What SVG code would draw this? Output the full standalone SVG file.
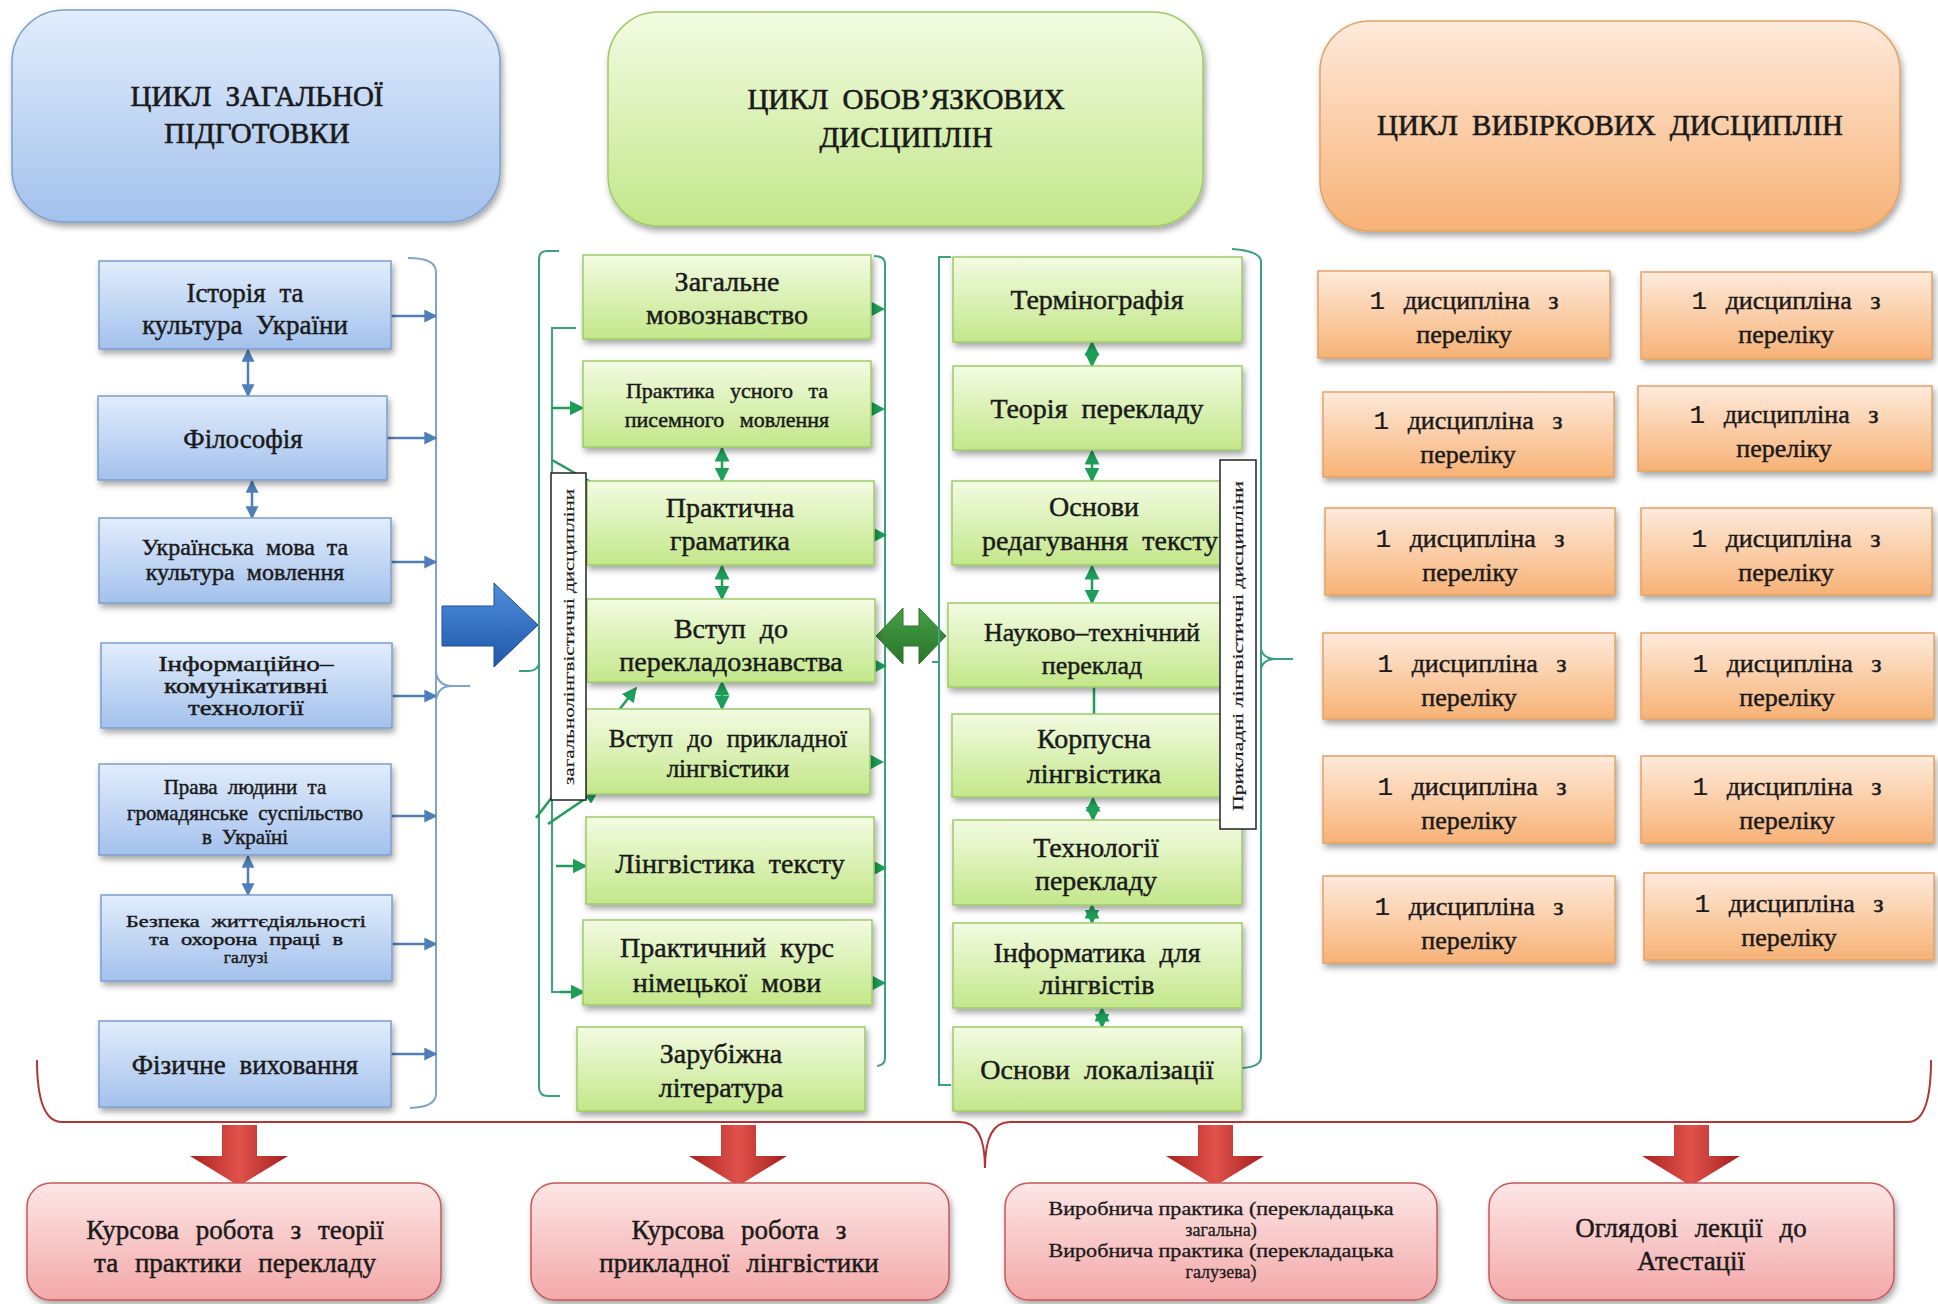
<svg xmlns="http://www.w3.org/2000/svg" width="1938" height="1304" viewBox="0 0 1938 1304">
<defs>
<linearGradient id="gB" x1="0" y1="0" x2="0" y2="1"><stop offset="0" stop-color="#e2edfc"/><stop offset="1" stop-color="#a3c1ec"/></linearGradient>
<linearGradient id="gG" x1="0" y1="0" x2="0" y2="1"><stop offset="0" stop-color="#f3fbe2"/><stop offset="1" stop-color="#c3e78a"/></linearGradient>
<linearGradient id="gO" x1="0" y1="0" x2="0" y2="1"><stop offset="0" stop-color="#feeadb"/><stop offset="1" stop-color="#f7b276"/></linearGradient>
<linearGradient id="gR" x1="0" y1="0" x2="0" y2="1"><stop offset="0" stop-color="#fde6e6"/><stop offset="1" stop-color="#f3a8a8"/></linearGradient>
<linearGradient id="gRA" x1="0" y1="0" x2="1" y2="0"><stop offset="0" stop-color="#a92222"/><stop offset="0.5" stop-color="#e0524a"/><stop offset="1" stop-color="#a31e1e"/></linearGradient>
<linearGradient id="gBA" x1="0" y1="0" x2="0" y2="1"><stop offset="0" stop-color="#4f8fdc"/><stop offset="1" stop-color="#1f56a8"/></linearGradient>
<linearGradient id="gGA" x1="0" y1="0" x2="0" y2="1"><stop offset="0" stop-color="#45a045"/><stop offset="1" stop-color="#2b742b"/></linearGradient>
<filter id="sh" x="-10%" y="-10%" width="125%" height="130%"><feDropShadow dx="2" dy="4" stdDeviation="3" flood-color="#000" flood-opacity="0.35"/></filter>
<marker id="mb" viewBox="0 0 10 10" refX="9" refY="5" markerUnits="userSpaceOnUse" markerWidth="13" markerHeight="13" orient="auto-start-reverse"><path d="M0,0 L10,5 L0,10 z" fill="#4f7fb8"/></marker>
<marker id="mg" viewBox="0 0 10 10" refX="9" refY="5" markerUnits="userSpaceOnUse" markerWidth="15" markerHeight="15" orient="auto-start-reverse"><path d="M0,0 L10,5 L0,10 z" fill="#1e9e58"/></marker>
</defs>
<style>
text{font-family:"Liberation Serif","Times New Roman",serif;fill:#1a1a1a;stroke:#1a1a1a;stroke-width:0.45px;text-anchor:middle}
.hdr{font-size:29px;word-spacing:7px;stroke-width:0.6px}
.b{font-size:27px;word-spacing:7px}
.m{font-size:25px;word-spacing:6px}
.s{font-size:21px;word-spacing:5px}
.g{font-size:28px;word-spacing:7px}
.o{font-size:26px;word-spacing:12px}
.one{font-family:"Liberation Mono","Courier New",monospace;stroke-width:0.2px}
.lab{font-size:15px;stroke-width:0.2px}
.bl{fill:url(#gB);stroke:#7a9fcf;stroke-width:1.5}
.gr{fill:url(#gG);stroke:#9ccb6a;stroke-width:1.5}
.or{fill:url(#gO);stroke:#e2a366;stroke-width:1.5}
.rd{fill:url(#gR);stroke:#c45a5a;stroke-width:1.5}
.ab{stroke:#4f7fb8;stroke-width:2.5;fill:none}
.ag{stroke:#1e9e58;stroke-width:2.5;fill:none}
.brB{stroke:#7fa3cc;stroke-width:2;fill:none}
.brG{stroke:#3aa17a;stroke-width:2;fill:none}
.tri{fill:#1e9e58}
</style>
<rect width="1938" height="1304" fill="#ffffff"/>

<!-- headers -->
<g id="hdr-general"><rect x="12" y="10" width="488" height="212" rx="52" class="bl" filter="url(#sh)"/><text class="hdr" x="257" y="106">ЦИКЛ ЗАГАЛЬНОЇ</text><text class="hdr" x="257" y="143">ПІДГОТОВКИ</text></g>
<g id="hdr-mandatory"><rect x="608" y="12" width="595" height="214" rx="50" class="gr" filter="url(#sh)"/><text class="hdr" x="906" y="109">ЦИКЛ ОБОВ’ЯЗКОВИХ</text><text class="hdr" x="906" y="147">ДИСЦИПЛІН</text></g>
<g id="hdr-elective"><rect x="1320" y="21" width="580" height="210" rx="50" class="or" filter="url(#sh)"/><text class="hdr" x="1610" y="135">ЦИКЛ ВИБІРКОВИХ ДИСЦИПЛІН</text></g>

<!-- connectors -->
<g id="connectors">
<path class="brB" d="M408,258 Q436,258 436,272 L436,1094 Q436,1107 410,1108"/>
<path class="brB" d="M436,672 Q438,686 452,686 L470,686 M452,686 Q438,686 436,700"/>
<line class="ab" x1="391" y1="316" x2="436" y2="316" marker-end="url(#mb)"/>
<line class="ab" x1="387" y1="438" x2="436" y2="438" marker-end="url(#mb)"/>
<line class="ab" x1="391" y1="562" x2="436" y2="562" marker-end="url(#mb)"/>
<line class="ab" x1="392" y1="696" x2="436" y2="696" marker-end="url(#mb)"/>
<line class="ab" x1="391" y1="816" x2="436" y2="816" marker-end="url(#mb)"/>
<line class="ab" x1="392" y1="944" x2="436" y2="944" marker-end="url(#mb)"/>
<line class="ab" x1="391" y1="1054" x2="436" y2="1054" marker-end="url(#mb)"/>
<line class="ab" x1="248" y1="350" x2="248" y2="396" marker-start="url(#mb)" marker-end="url(#mb)"/>
<line class="ab" x1="252" y1="481" x2="252" y2="518" marker-start="url(#mb)" marker-end="url(#mb)"/>
<line class="ab" x1="248" y1="856" x2="248" y2="895" marker-start="url(#mb)" marker-end="url(#mb)"/>
<polygon points="442,606 494,606 494,583 538,625 494,667 494,646 442,646" fill="url(#gBA)" stroke="#1d4f97" stroke-width="1"/>
<path class="brG" d="M559,251 L547,251 Q539,251 539,259 L539,1087 Q539,1096 548,1096 L560,1096"/>
<path class="brG" d="M539,664 Q537,671 528,671 L519,671"/>
<path class="brG" d="M576,328 L552,328 L552,992 L572,992"/>
<line class="ag" x1="552" y1="408" x2="583" y2="408" marker-end="url(#mg)"/>
<line class="ag" x1="552" y1="645" x2="587" y2="645" marker-end="url(#mg)"/>
<line class="ag" x1="556" y1="866" x2="586" y2="866" marker-end="url(#mg)"/>
<line class="ag" x1="560" y1="992" x2="584" y2="992" marker-end="url(#mg)"/>
<line class="ag" x1="552" y1="460" x2="612" y2="494" marker-end="url(#mg)"/>
<line class="ag" x1="536" y1="818" x2="636" y2="688" marker-end="url(#mg)"/>
<line class="ag" x1="548" y1="824" x2="598" y2="790" marker-end="url(#mg)"/>
<path class="brG" d="M874,256 Q885,256 885,264 L885,1058 Q885,1065 877,1066"/>
<polygon class="tri" points="868,300 885,309 868,318"/>
<polygon class="tri" points="868,400 885,409 868,418"/>
<polygon class="tri" points="870,526 887,535 870,544"/>
<polygon class="tri" points="870,657 887,666 870,675"/>
<polygon class="tri" points="867,753 884,762 867,771"/>
<polygon class="tri" points="870,859 887,868 870,877"/>
<polygon class="tri" points="869,974 886,983 869,992"/>
<line class="ag" x1="722" y1="448" x2="722" y2="481" marker-start="url(#mg)" marker-end="url(#mg)"/>
<line class="ag" x1="722" y1="566" x2="722" y2="599" marker-start="url(#mg)" marker-end="url(#mg)"/>
<line class="ag" x1="722" y1="682" x2="722" y2="709" marker-start="url(#mg)" marker-end="url(#mg)"/>
<polygon points="876,636 903,608 903,626 919,626 919,608 946,636 919,664 919,646 903,646 903,664" fill="url(#gGA)" stroke="#2d742d" stroke-width="1"/>
<path class="brG" d="M951,257 L939,257 L939,1085 L951,1085 M939,662 L932,662"/>
<path class="brG" d="M1232,249 Q1261,251 1261,262 L1261,1057 Q1261,1067 1242,1068"/>
<path class="brG" d="M1261,649 Q1263,659 1276,659 L1293,659 M1276,659 Q1263,659 1261,669"/>
<line class="ag" x1="1092" y1="342" x2="1092" y2="366" marker-start="url(#mg)" marker-end="url(#mg)"/>
<line class="ag" x1="1092" y1="451" x2="1092" y2="481" marker-start="url(#mg)" marker-end="url(#mg)"/>
<line class="ag" x1="1092" y1="566" x2="1092" y2="603" marker-start="url(#mg)" marker-end="url(#mg)"/>
<line class="ag" x1="1094" y1="668" x2="1094" y2="748" marker-start="url(#mg)"/>
<line class="ag" x1="1093" y1="798" x2="1093" y2="820" marker-start="url(#mg)" marker-end="url(#mg)"/>
<line class="ag" x1="1092" y1="905" x2="1092" y2="923" marker-start="url(#mg)" marker-end="url(#mg)"/>
<line class="ag" x1="1102" y1="1008" x2="1102" y2="1027" marker-start="url(#mg)" marker-end="url(#mg)"/>
<path d="M37,1060 Q37,1122 62,1122 L960,1122 Q985,1122 985,1168 Q985,1122 1010,1122 L1908,1122 Q1931,1122 1931,1060" fill="none" stroke="#b23434" stroke-width="2"/>
<polygon points="222,1125 257,1125 257,1156 288,1156 239,1186 190,1156 222,1156" fill="url(#gRA)"/>
<polygon points="721,1125 756,1125 756,1156 787,1156 738,1186 689,1156 721,1156" fill="url(#gRA)"/>
<polygon points="1198,1125 1233,1125 1233,1156 1264,1156 1215,1186 1166,1156 1198,1156" fill="url(#gRA)"/>
<polygon points="1674,1125 1709,1125 1709,1156 1740,1156 1691,1186 1642,1156 1674,1156" fill="url(#gRA)"/>
</g>

<!-- blue column -->
<g id="n-history"><rect x="99" y="261" width="292" height="88" class="bl" filter="url(#sh)"/><text class="b" x="245" y="302">Історія та</text><text class="b" x="245" y="334">культура України</text></g>
<g id="n-philosophy"><rect x="98" y="396" width="289" height="84" class="bl" filter="url(#sh)"/><text class="b" x="243" y="448">Філософія</text></g>
<g id="n-ukrlang"><rect x="99" y="518" width="292" height="85" class="bl" filter="url(#sh)"/><text class="m" x="245" y="555" style="font-size:24px">Українська мова та</text><text class="m" x="245" y="580" style="font-size:24px">культура мовлення</text></g>
<g id="n-ict"><rect x="101" y="643" width="291" height="85" class="bl" filter="url(#sh)"/><text class="m" x="246" y="671" style="font-size:21px" textLength="175" lengthAdjust="spacingAndGlyphs">Інформаційно–</text><text class="m" x="246" y="693" style="font-size:21px" textLength="164" lengthAdjust="spacingAndGlyphs">комунікативні</text><text class="m" x="246" y="715" style="font-size:21px" textLength="116" lengthAdjust="spacingAndGlyphs">технології</text></g>
<g id="n-rights"><rect x="99" y="764" width="292" height="91" class="bl" filter="url(#sh)"/><text class="s" x="245" y="794">Права людини та</text><text class="s" x="245" y="820">громадянське суспільство</text><text class="s" x="245" y="844">в Україні</text></g>
<g id="n-safety"><rect x="101" y="895" width="291" height="86" class="bl" filter="url(#sh)"/><text class="s" x="246" y="927" style="font-size:17.5px" textLength="240" lengthAdjust="spacingAndGlyphs">Безпека життєдіяльності</text><text class="s" x="246" y="945" style="font-size:17.5px" textLength="194" lengthAdjust="spacingAndGlyphs">та охорона праці в</text><text class="s" x="246" y="963" style="font-size:17.5px">галузі</text></g>
<g id="n-pe"><rect x="99" y="1021" width="292" height="86" class="bl" filter="url(#sh)"/><text class="b" x="245" y="1074">Фізичне виховання</text></g>

<!-- green column A -->
<g id="n-genling"><rect x="583" y="255" width="288" height="84" class="gr" filter="url(#sh)"/><text class="g" x="727" y="291">Загальне</text><text class="g" x="727" y="324">мовознавство</text></g>
<g id="n-practice"><rect x="583" y="361" width="288" height="86" class="gr" filter="url(#sh)"/><text class="s" x="727" y="398" style="font-size:22px;word-spacing:10px">Практика усного та</text><text class="s" x="727" y="427" style="font-size:22px;word-spacing:10px">писемного мовлення</text></g>
<g id="n-grammar"><rect x="587" y="481" width="287" height="84" class="gr" filter="url(#sh)"/><text class="g" x="730" y="517">Практична</text><text class="g" x="730" y="550">граматика</text></g>
<g id="n-transintro"><rect x="587" y="599" width="288" height="83" class="gr" filter="url(#sh)"/><text class="g" x="731" y="638">Вступ до</text><text class="g" x="731" y="671">перекладознавства</text></g>
<g id="n-appling"><rect x="586" y="709" width="284" height="85" class="gr" filter="url(#sh)"/><text class="m" x="728" y="747" style="word-spacing:8px">Вступ до прикладної</text><text class="m" x="728" y="777">лінгвістики</text></g>
<g id="n-textling"><rect x="586" y="817" width="288" height="87" class="gr" filter="url(#sh)"/><text class="g" x="730" y="873">Лінгвістика тексту</text></g>
<g id="n-german"><rect x="583" y="920" width="289" height="85" class="gr" filter="url(#sh)"/><text class="g" x="727" y="957">Практичний курс</text><text class="g" x="727" y="992">німецької мови</text></g>
<g id="n-foreignlit"><rect x="577" y="1027" width="288" height="84" class="gr" filter="url(#sh)"/><text class="g" x="721" y="1063">Зарубіжна</text><text class="g" x="721" y="1097">література</text></g>
<g id="lab-general"><rect x="551" y="473" width="35" height="327" fill="#ffffff" stroke="#222" stroke-width="1.5"/><text class="lab" transform="translate(574,637) rotate(-90)" textLength="296" lengthAdjust="spacingAndGlyphs">загальнолінгвістичні дисципліни</text></g>

<!-- green column B -->
<g id="n-termino"><rect x="953" y="257" width="289" height="85" class="gr" filter="url(#sh)"/><text class="g" x="1097" y="309">Термінографія</text></g>
<g id="n-transtheory"><rect x="953" y="366" width="289" height="84" class="gr" filter="url(#sh)"/><text class="g" x="1097" y="418">Теорія перекладу</text></g>
<g id="n-editing"><rect x="952" y="481" width="284" height="84" class="gr" filter="url(#sh)"/><text class="g" x="1094" y="516">Основи</text><text class="g" x="1100" y="550">редагування тексту</text></g>
<g id="n-scitech"><rect x="948" y="603" width="288" height="84" class="gr" filter="url(#sh)"/><text class="g" x="1092" y="641" style="font-size:26px">Науково–технічний</text><text class="g" x="1092" y="674" style="font-size:26px">переклад</text></g>
<g id="n-corpus"><rect x="952" y="714" width="285" height="83" class="gr" filter="url(#sh)"/><text class="g" x="1094" y="748">Корпусна</text><text class="g" x="1094" y="783">лінгвістика</text></g>
<g id="n-transtech"><rect x="953" y="820" width="289" height="85" class="gr" filter="url(#sh)"/><text class="g" x="1096" y="857">Технології</text><text class="g" x="1096" y="890">перекладу</text></g>
<g id="n-informatics"><rect x="953" y="923" width="289" height="85" class="gr" filter="url(#sh)"/><text class="g" x="1097" y="962">Інформатика для</text><text class="g" x="1097" y="994">лінгвістів</text></g>
<g id="n-local"><rect x="953" y="1027" width="289" height="84" class="gr" filter="url(#sh)"/><text class="g" x="1097" y="1079">Основи локалізації</text></g>
<g id="lab-applied"><rect x="1220" y="460" width="36" height="369" fill="#ffffff" stroke="#222" stroke-width="1.5"/><text class="lab" transform="translate(1243,646) rotate(-90)" textLength="330" lengthAdjust="spacingAndGlyphs">Прикладні лінгвістичні дисципліни</text></g>

<!-- orange electives -->
<g id="e1"><rect x="1318" y="271" width="292" height="87" class="or" filter="url(#sh)"/><text class="o" x="1464" y="309"><tspan class="one">1</tspan> дисципліна з</text><text class="o" x="1464" y="343">переліку</text></g>
<g id="e2"><rect x="1641" y="272" width="291" height="87" class="or" filter="url(#sh)"/><text class="o" x="1786" y="309"><tspan class="one">1</tspan> дисципліна з</text><text class="o" x="1786" y="343">переліку</text></g>
<g id="e3"><rect x="1323" y="392" width="291" height="85" class="or" filter="url(#sh)"/><text class="o" x="1468" y="429"><tspan class="one">1</tspan> дисципліна з</text><text class="o" x="1468" y="463">переліку</text></g>
<g id="e4"><rect x="1638" y="386" width="294" height="85" class="or" filter="url(#sh)"/><text class="o" x="1784" y="423"><tspan class="one">1</tspan> дисципліна з</text><text class="o" x="1784" y="457">переліку</text></g>
<g id="e5"><rect x="1325" y="508" width="290" height="87" class="or" filter="url(#sh)"/><text class="o" x="1470" y="547"><tspan class="one">1</tspan> дисципліна з</text><text class="o" x="1470" y="581">переліку</text></g>
<g id="e6"><rect x="1641" y="508" width="291" height="87" class="or" filter="url(#sh)"/><text class="o" x="1786" y="547"><tspan class="one">1</tspan> дисципліна з</text><text class="o" x="1786" y="581">переліку</text></g>
<g id="e7"><rect x="1323" y="633" width="292" height="86" class="or" filter="url(#sh)"/><text class="o" x="1472" y="672"><tspan class="one">1</tspan> дисципліна з</text><text class="o" x="1469" y="706">переліку</text></g>
<g id="e8"><rect x="1641" y="633" width="293" height="86" class="or" filter="url(#sh)"/><text class="o" x="1787" y="672"><tspan class="one">1</tspan> дисципліна з</text><text class="o" x="1787" y="706">переліку</text></g>
<g id="e9"><rect x="1323" y="756" width="292" height="87" class="or" filter="url(#sh)"/><text class="o" x="1472" y="795"><tspan class="one">1</tspan> дисципліна з</text><text class="o" x="1469" y="829">переліку</text></g>
<g id="e10"><rect x="1641" y="756" width="293" height="87" class="or" filter="url(#sh)"/><text class="o" x="1787" y="795"><tspan class="one">1</tspan> дисципліна з</text><text class="o" x="1787" y="829">переліку</text></g>
<g id="e11"><rect x="1323" y="876" width="292" height="87" class="or" filter="url(#sh)"/><text class="o" x="1469" y="915"><tspan class="one">1</tspan> дисципліна з</text><text class="o" x="1469" y="949">переліку</text></g>
<g id="e12"><rect x="1644" y="873" width="290" height="87" class="or" filter="url(#sh)"/><text class="o" x="1789" y="912"><tspan class="one">1</tspan> дисципліна з</text><text class="o" x="1789" y="946">переліку</text></g>

<!-- bottom results -->
<g id="r1"><rect x="27" y="1183" width="414" height="117" rx="24" class="rd" filter="url(#sh)"/><text class="b" x="235" y="1239" style="word-spacing:10px">Курсова робота з теорії</text><text class="b" x="235" y="1272" style="word-spacing:10px">та практики перекладу</text></g>
<g id="r2"><rect x="531" y="1183" width="418" height="117" rx="24" class="rd" filter="url(#sh)"/><text class="b" x="739" y="1239" style="word-spacing:10px">Курсова робота з</text><text class="b" x="739" y="1272" style="word-spacing:10px">прикладної лінгвістики</text></g>
<g id="r3"><rect x="1005" y="1183" width="432" height="117" rx="24" class="rd" filter="url(#sh)"/><text x="1221" y="1215" style="font-size:18px;stroke-width:0.3px" textLength="345" lengthAdjust="spacingAndGlyphs">Виробнича практика (перекладацька</text><text x="1221" y="1236" style="font-size:18px;stroke-width:0.3px">загальна)</text><text x="1221" y="1257" style="font-size:18px;stroke-width:0.3px" textLength="345" lengthAdjust="spacingAndGlyphs">Виробнича практика (перекладацька</text><text x="1221" y="1278" style="font-size:18px;stroke-width:0.3px">галузева)</text></g>
<g id="r4"><rect x="1489" y="1183" width="405" height="117" rx="24" class="rd" filter="url(#sh)"/><text class="b" x="1691" y="1237" style="word-spacing:10px">Оглядові лекції до</text><text class="b" x="1691" y="1270">Атестації</text></g>
</svg>
